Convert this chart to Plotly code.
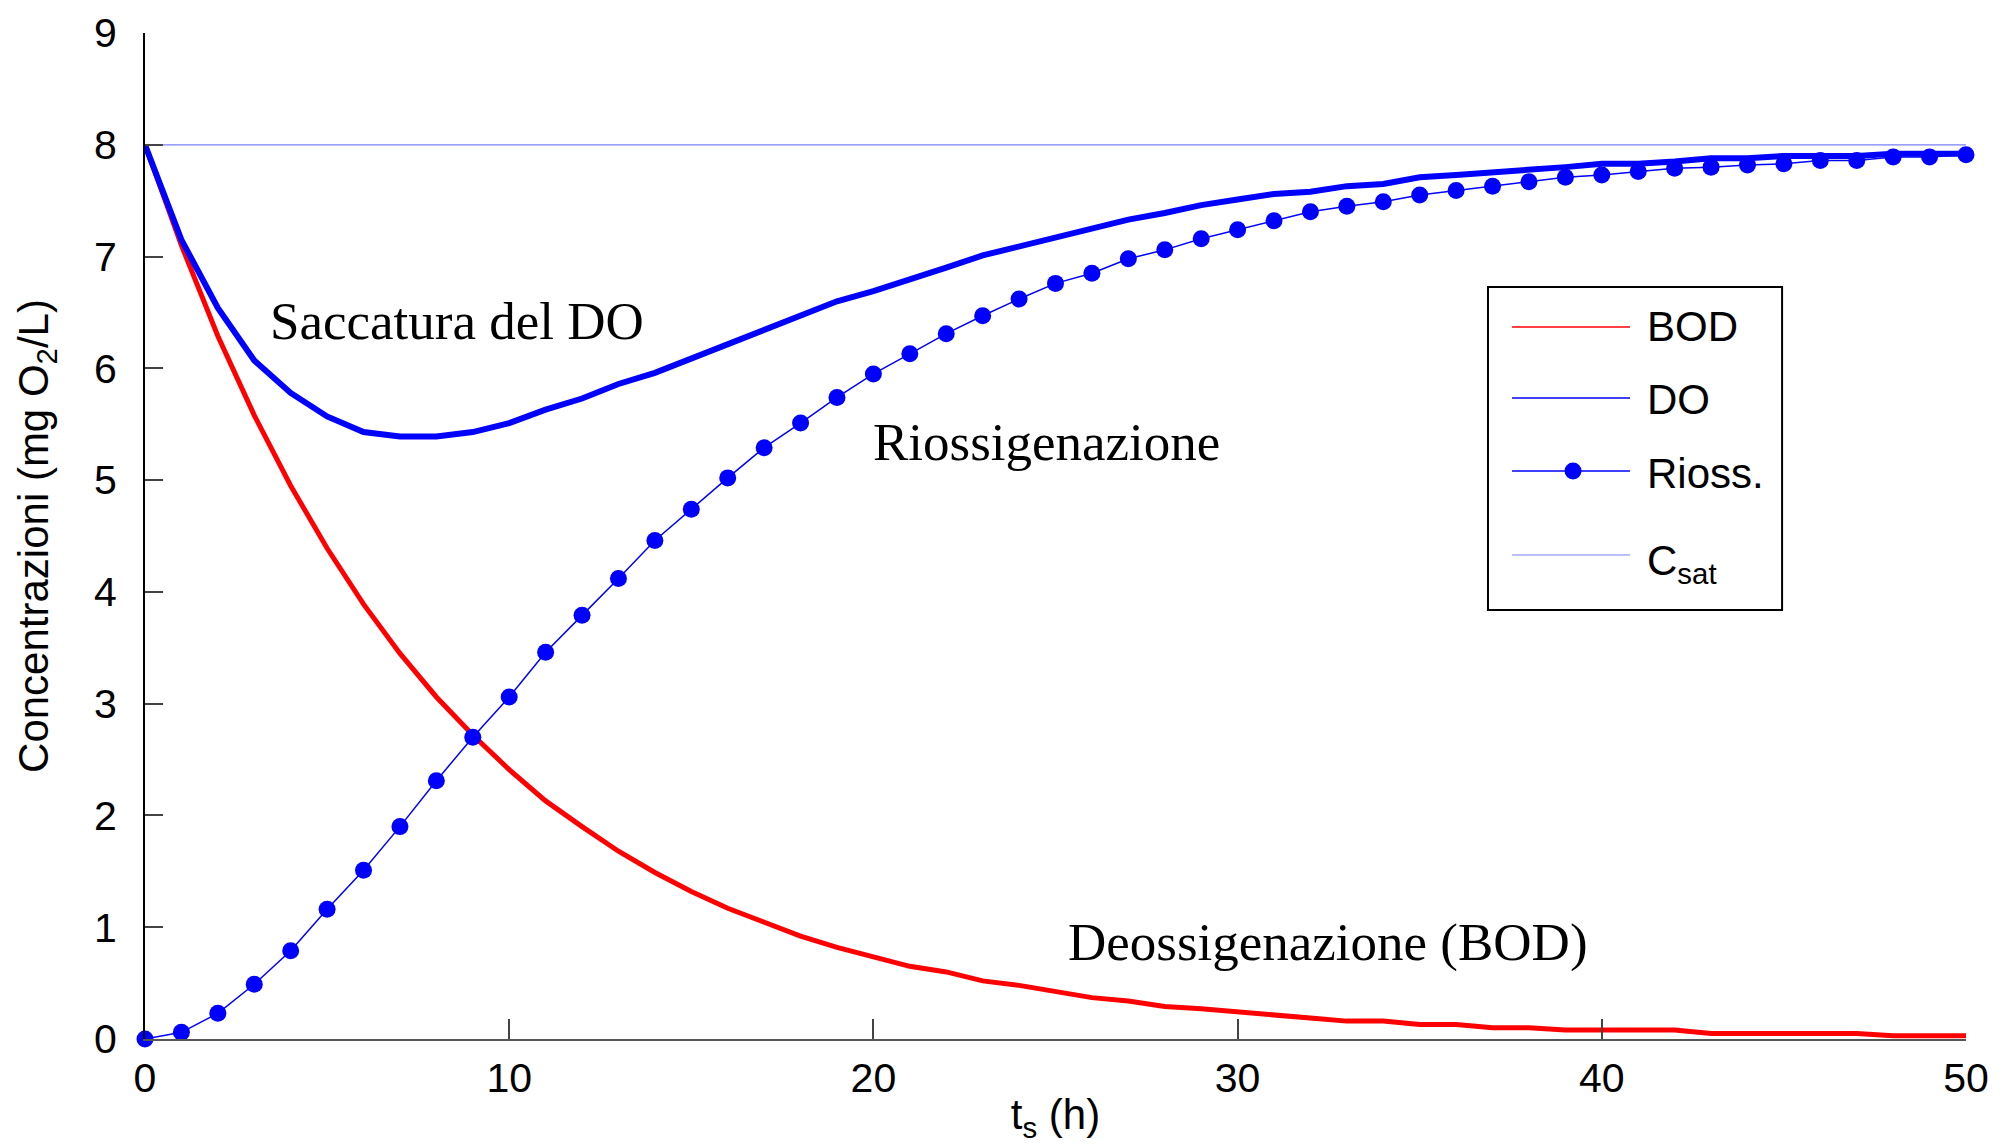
import plotly.graph_objects as go

# Time axis (hours)
hours = list(range(51))

# Residual BOD (deoxygenation), mg O2/L
bod = [8.00, 7.10, 6.29, 5.58, 4.95, 4.39, 3.89, 3.45, 3.06, 2.72,
       2.41, 2.13, 1.90, 1.68, 1.49, 1.32, 1.17, 1.04, 0.92, 0.82,
       0.74, 0.65, 0.60, 0.52, 0.48, 0.43, 0.37, 0.34, 0.29, 0.27,
       0.24, 0.21, 0.19, 0.16, 0.16, 0.13, 0.13, 0.10, 0.10, 0.08,
       0.08, 0.08, 0.08, 0.05, 0.05, 0.05, 0.05, 0.05, 0.03, 0.03,
       0.03]

# Dissolved oxygen, mg O2/L
do = [8.00, 7.15, 6.54, 6.07, 5.78, 5.57, 5.43, 5.39, 5.39, 5.43,
      5.51, 5.63, 5.73, 5.86, 5.96, 6.09, 6.22, 6.34, 6.47, 6.60,
      6.69, 6.79, 6.90, 7.01, 7.09, 7.18, 7.26, 7.33, 7.39, 7.46,
      7.51, 7.56, 7.58, 7.63, 7.65, 7.71, 7.73, 7.75, 7.77, 7.80,
      7.83, 7.83, 7.85, 7.88, 7.88, 7.90, 7.90, 7.90, 7.92, 7.92,
      7.92]

# Reaeration contribution, mg O2/L
rioss = [0.00, 0.06, 0.23, 0.49, 0.79, 1.16, 1.51, 1.90, 2.31, 2.70,
         3.06, 3.46, 3.79, 4.12, 4.46, 4.74, 5.02, 5.29, 5.51, 5.74,
         5.95, 6.13, 6.31, 6.47, 6.62, 6.76, 6.85, 6.98, 7.06, 7.16,
         7.24, 7.32, 7.40, 7.45, 7.49, 7.55, 7.59, 7.63, 7.67, 7.71,
         7.73, 7.76, 7.79, 7.80, 7.82, 7.83, 7.86, 7.86, 7.89, 7.89,
         7.91]

# Saturation concentration
c_sat = 8.0
sat_span = [0, 50]

x_ticks = [0, 10, 20, 30, 40, 50]
y_ticks = list(range(10))

RED = "#ff0000"
BLUE = "#0000ff"
SAT_BLUE = "#7a80ff"
SANS = "Liberation Sans, Arial, sans-serif"
SERIF = "Liberation Serif, Times New Roman, serif"

fig = go.Figure()

fig.add_trace(go.Scatter(x=sat_span, y=[c_sat, c_sat], mode="lines",
                         line=dict(color=SAT_BLUE, width=1.2),
                         name="Csat", showlegend=False, cliponaxis=False))
fig.add_trace(go.Scatter(x=hours, y=bod, mode="lines",
                         line=dict(color=RED, width=5),
                         name="BOD", showlegend=False, cliponaxis=False))
fig.add_trace(go.Scatter(x=hours, y=do, mode="lines",
                         line=dict(color=BLUE, width=6),
                         name="DO", showlegend=False, cliponaxis=False))
fig.add_trace(go.Scatter(x=hours, y=rioss, mode="lines+markers",
                         line=dict(color=BLUE, width=1.5),
                         marker=dict(color=BLUE, size=17, line=dict(width=0)),
                         name="Rioss.", showlegend=False, cliponaxis=False))

# Curve labels
labels = [
    ("Saccatura del DO", 8.57, 6.42),
    ("Riossigenazione", 24.74, 5.34),
    ("Deossigenazione (BOD)", 32.48, 0.86),
]
annotations = []
for text, ax, ay in labels:
    annotations.append(dict(x=ax, y=ay, xref="x", yref="y", text=text,
                            showarrow=False, xanchor="center", yanchor="middle",
                            font=dict(family=SERIF, size=53, color="black")))

# Legend box drawn in paper coordinates
shapes = [dict(type="rect", xref="paper", yref="paper",
               x0=0.7375, x1=0.8990, y0=0.4264, y1=0.7475,
               line=dict(color="black", width=2), fillcolor="white", layer="above")]

legend_rows = [
    ("BOD", RED, 1.5, 0.7078, 0.7078, False),
    ("DO", BLUE, 1.5, 0.6372, 0.6352, False),
    ("Rioss.", BLUE, 1.5, 0.5646, 0.5626, True),
    ("C<sub>sat</sub>", SAT_BLUE, 1.2, 0.4811, 0.4731, False),
]
for text, color, width, ly, ty, dot in legend_rows:
    shapes.append(dict(type="line", xref="paper", yref="paper",
                       x0=0.7507, x1=0.8155, y0=ly, y1=ly,
                       line=dict(color=color, width=width), layer="above"))
    if dot:
        rx = 8.5 / 1821
        ry = 8.5 / 1006
        shapes.append(dict(type="circle", xref="paper", yref="paper",
                           x0=0.7842 - rx, x1=0.7842 + rx, y0=ly - ry, y1=ly + ry,
                           fillcolor=color, line=dict(width=0), layer="above"))
    annotations.append(dict(x=0.8237, y=ty, xref="paper", yref="paper", text=text,
                            showarrow=False, xanchor="left", yanchor="middle",
                            font=dict(family=SANS, size=42, color="black")))

fig.update_layout(
    width=2004, height=1144,
    margin=dict(l=145, r=38, t=33, b=105, pad=0),
    paper_bgcolor="white", plot_bgcolor="white",
    showlegend=False,
    annotations=annotations,
    shapes=shapes,
    font=dict(family=SANS, color="black"),
)

fig.update_xaxes(
    range=[0, 50], tickvals=x_ticks, ticktext=[str(v) for v in x_ticks],
    ticks="inside", ticklen=20, tickwidth=1.5, tickcolor="#444444",
    showline=True, linecolor="#555555", linewidth=2,
    showgrid=False, zeroline=False, automargin=False,
    tickfont=dict(family=SANS, size=41, color="black"),
    ticklabelstandoff=2,
    title=dict(text="t<sub>s</sub> (h)", font=dict(family=SANS, size=42, color="black"),
               standoff=10),
)
fig.update_yaxes(
    range=[0, 9], tickvals=y_ticks, ticktext=[str(v) for v in y_ticks],
    ticks="inside", ticklen=18, tickwidth=1.5, tickcolor="#444444",
    showline=True, linecolor="black", linewidth=2,
    showgrid=False, zeroline=False, automargin=False,
    tickfont=dict(family=SANS, size=41, color="black"),
    ticklabelstandoff=18,
    title=dict(text="Concentrazioni (mg O<sub>2</sub>/L)",
               font=dict(family=SANS, size=42, color="black"), standoff=32),
)

fig.write_html("out.html")
